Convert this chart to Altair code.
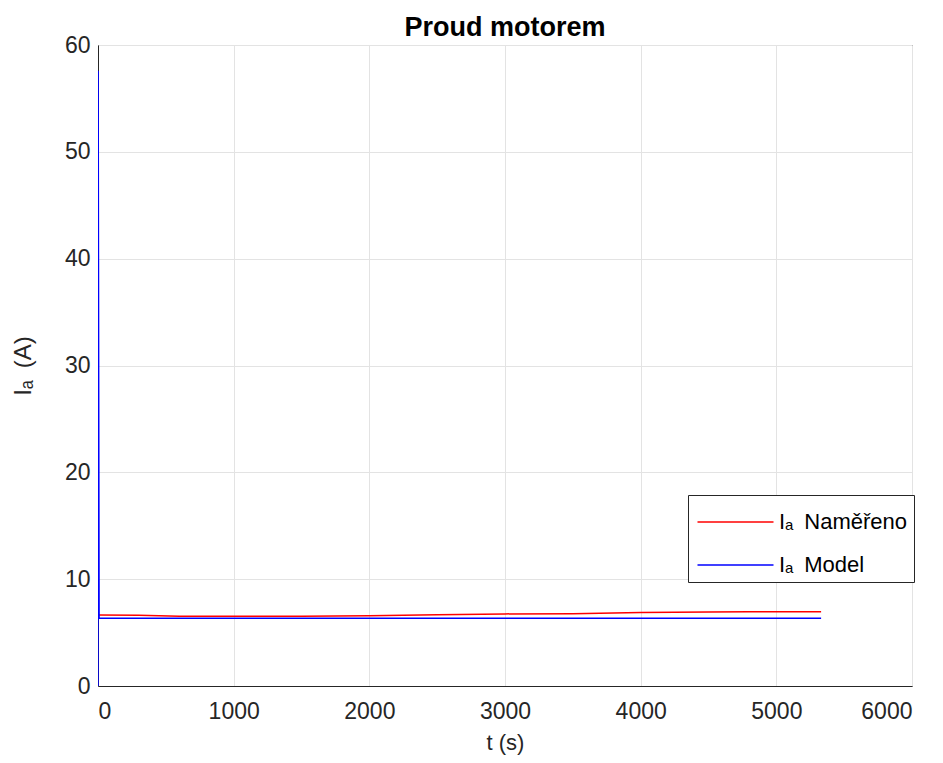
import altair as alt
import pandas as pd

# Measured current (red)
t_meas = [0, 300, 600, 1000, 1500, 2000, 2500, 3000, 3500, 4000, 4500, 4800, 5330]
i_meas = [6.65, 6.62, 6.52, 6.52, 6.53, 6.58, 6.67, 6.75, 6.77, 6.88, 6.92, 6.95, 6.95]

# Model current (blue)
t_model = [0, 1, 8, 1000, 2000, 3000, 4000, 5000, 5330]
i_model = [0, 57.6, 6.35, 6.35, 6.35, 6.35, 6.35, 6.35, 6.35]

series_names = ["Iₐ\u2002Naměřeno", "Iₐ\u2002Model"]
series_colors = ["#ff0000", "#0000ff"]

x_ticks = [0, 1000, 2000, 3000, 4000, 5000, 6000]
y_ticks = [0, 10, 20, 30, 40, 50, 60]

rows = []
for t, v in zip(t_meas, i_meas):
    rows.append({"t": t, "I": v, "s": series_names[0], "o": 0})
for t, v in zip(t_model, i_model):
    rows.append({"t": t, "I": v, "s": series_names[1], "o": 1})
df = pd.DataFrame(rows)

font = "Liberation Sans"

chart = alt.Chart(df).mark_line(strokeWidth=1.5, clip=True).encode(
    x=alt.X("t:Q", title="t (s)",
            scale=alt.Scale(domain=[0, 6000], nice=False),
            axis=alt.Axis(values=x_ticks, format="d",
                          labelFontSize=23, titleFontSize=22, titlePadding=9,
                          labelPadding=14, ticks=False, titleFontWeight="normal")),
    y=alt.Y("I:Q", title="Iₐ\u2002(A)",
            scale=alt.Scale(domain=[0, 60], nice=False),
            axis=alt.Axis(values=y_ticks,
                          labelFontSize=23, titleFontSize=24, titlePadding=29,
                          labelPadding=8, ticks=False, titleFontWeight="normal")),
    color=alt.Color("s:N",
                    scale=alt.Scale(domain=series_names, range=series_colors),
                    legend=alt.Legend(title=None, orient="none",
                                      legendX=590, legendY=450,
                                      symbolType="M-1.9,0H1.9", symbolSize=1600,
                                      symbolStrokeWidth=1.5,
                                      symbolOffset=20.5, labelOffset=22.5,
                                      labelFontSize=22, labelFont=font,
                                      labelColor="black",
                                      rowPadding=11, padding=6,
                                      strokeColor="#262626", fillColor="white",
                                      labelLimit=300)),
    detail="s:N",
    order="o:Q",
).properties(
    width=814, height=641,
    title=alt.Title("Proud motorem", fontSize=27, fontWeight="bold",
                    font=font, color="black", offset=-8),
    padding={"left": 90, "top": 37, "right": 15, "bottom": 69},
    autosize=alt.AutoSizeParams(type="none"),
).configure_view(
    stroke="#262626", strokeWidth=1
).configure_axis(
    labelFont=font, titleFont=font, labelColor="#262626", titleColor="#262626",
    gridColor="#e3e3e3", gridOpacity=1, domainColor="#262626",
)

chart.save("out.html", embed_options={"renderer": "svg", "actions": False})
